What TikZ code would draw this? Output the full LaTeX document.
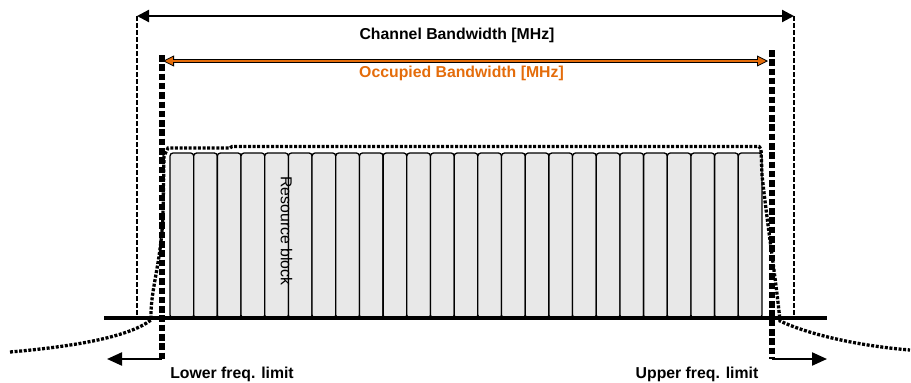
\documentclass[tikz,border=0pt]{standalone}
\usepackage{fontspec}
\setmainfont{Liberation Sans}
\usetikzlibrary{arrows.meta}
\definecolor{occ}{HTML}{E46C0A}
\definecolor{rbfill}{HTML}{E8E8E8}
\begin{document}
\begin{tikzpicture}[x=1pt,y=-1pt,
  chdash/.style={line width=1.8pt,dash pattern=on 4.5pt off 2.5pt},
  bigarrow/.style={line width=2.2pt,{Triangle[length=12pt,width=12pt]}-{Triangle[length=12pt,width=12pt]}},
  occtips/.style={line width=0.8pt,{Triangle[length=11pt,width=11pt,fill=occ]}-{Triangle[length=11pt,width=11pt,fill=occ]}},
  occline/.style={line width=1pt,double=occ,double distance=1.2pt,shorten <=10pt,shorten >=10pt},
  rb/.style={fill=rbfill,draw=black,line width=1.3pt,rounded corners=3pt},
  mask/.style={line width=3.3pt,dash pattern=on 3pt off 1.6pt},
  axisline/.style={line width=3.2pt},
  limit/.style={line width=6.5pt,dash pattern=on 6.5pt off 2.8pt},
  limarrow/.style={line width=2.2pt,-{Triangle[length=15pt,width=13pt]}},
  lbl/.style={font=\fontsize{15.8}{18}\selectfont\bfseries,inner sep=0pt,anchor=base},
  rblbl/.style={font=\fontsize{15.8}{18}\selectfont,inner sep=0pt,rotate=-90}]
\useasboundingbox (0,0) rectangle (911,383);
% channel bandwidth edges
\coordinate (cbL) at (137,16);
\coordinate (cbR) at (794,16);
\coordinate (cbLb) at (137,318);
\coordinate (cbRb) at (794,318);
\draw[chdash] (cbL) -- (cbLb);
\draw[chdash] (cbR) -- (cbRb);
% resource blocks
\foreach \i in {0,...,24}{
  \pgfmathsetmacro\xa{170+\i*23.68}
  \pgfmathsetmacro\xb{\xa+23.68}
  \draw[rb] (\xa,153) rectangle (\xb,318);
}
% spectrum mask
\draw[mask] (10,352) .. controls (80,346) and (130,336) .. (151,320)
  .. controls (150,290) and (161,265) .. (163,215) -- (164,156) -- (168,148)
  -- (230,148) -- (232,146.5) -- (759,146.5) -- (761,149) -- (762,175)
  .. controls (768,230) and (776,280) .. (780,321)
  .. controls (810,335) and (860,346) .. (910,350);
% axis
\coordinate (axL) at (104,318);
\coordinate (axR) at (827,318);
\draw[axisline] (axL) -- (axR);
% frequency limits
\coordinate (loT) at (162,55);
\coordinate (loB) at (162,359);
\coordinate (loA) at (107,359);
\coordinate (upT) at (772,50);
\coordinate (upB) at (772,359);
\coordinate (upA) at (827,359);
\draw[limit] (loT) -- (loB);
\draw[limit] (upT) -- (upB);
\draw[limarrow] (loB) -- (loA);
\draw[limarrow] (upB) -- (upA);
% bandwidth arrows
\draw[bigarrow] (cbL) -- (cbR);
\coordinate (obL) at (163,61);
\coordinate (obR) at (768,61);
\draw[occtips] (obL) -- (obR);
\draw[occline] (obL) -- (obR);
% labels
\node[lbl] (chtxt) at (457,39) {Channel Bandwidth [MHz]};
\node[lbl,text=occ] (octxt) at (461.5,77.5) {Occupied Bandwidth [MHz]};
\node[lbl] (lotxt) at (232,378) {Lower freq. limit};
\node[lbl] (uptxt) at (697,378) {Upper freq. limit};
\node[rblbl] (rbtxt) at (286.5,231) {Resource block};
\end{tikzpicture}
\end{document}
